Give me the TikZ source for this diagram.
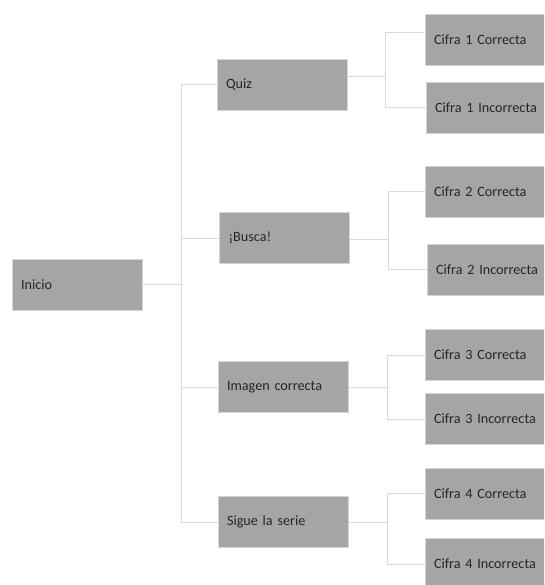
\documentclass[tikz,border=0pt]{standalone}
\usepackage{fontspec}
\setmainfont{Carlito}
\definecolor{boxfill}{HTML}{A5A5A5}
\definecolor{boxline}{HTML}{D4D4D4}
\definecolor{connline}{HTML}{D9D9D9}
\definecolor{txt}{HTML}{262626}
\tikzset{
  box/.style={rectangle, fill=boxfill, draw=boxline, line width=0.8pt,
    minimum height=51pt, text width=112pt, inner xsep=9pt, inner ysep=0pt,
    align=left, text=txt, font=\fontsize{14.2pt}{16pt}\selectfont},
  conn/.style={draw=connline, line width=1pt}
}
\begin{document}
\begin{tikzpicture}[x=1pt,y=-1pt]
\clip (0,0) rectangle (544,585);
\fill[white] (0,0) rectangle (544,585);
% level 1
\node[box] (inicio) at (77,284.5) {Inicio};
% level 2
\node[box] (quiz) at (282,84.5) {Quiz};
\node[box] (busca) at (284.5,238) {¡Busca!};
\node[box] (imagen) at (283,387) {Imagen correcta};
\node[box] (sigue) at (283,522) {Sigue la serie};
% level 3
\node[box] (c1c) at (490,39.5) {Cifra 1 Correcta};
\node[box] (c1i) at (491,107.5) {Cifra 1 Incorrecta};
\node[box] (c2c) at (490,192) {Cifra 2 Correcta};
\node[box] (c2i) at (492,269.5) {Cifra 2 Incorrecta};
\node[box] (c3c) at (490,355) {Cifra 3 Correcta};
\node[box] (c3i) at (490,419) {Cifra 3 Incorrecta};
\node[box] (c4c) at (490,493.5) {Cifra 4 Correcta};
\node[box] (c4i) at (490,564) {Cifra 4 Incorrecta};
% trunk
\coordinate (t) at (181,284.5);
\draw[conn] (inicio.east) -- (t);
\draw[conn] (t) |- (quiz.west);
\draw[conn] (t) |- (busca.west);
\draw[conn] (t) |- (imagen.west);
\draw[conn] (t) |- (sigue.west);
% quiz branches
\coordinate (b1) at (385,77);
\coordinate (c1cin) at (424,33);
\draw[conn] (quiz.east |- b1) -- (b1);
\draw[conn] (b1) |- (c1cin);
\draw[conn] (b1) |- (c1i.west);
% busca branches
\coordinate (b2) at (388,239);
\draw[conn] (busca.east |- b2) -- (b2);
\draw[conn] (b2) |- (c2c.west);
\draw[conn] (b2) |- (c2i.west);
% imagen branches
\coordinate (b3) at (387,387);
\draw[conn] (imagen.east) -- (b3);
\draw[conn] (b3) |- (c3c.west);
\draw[conn] (b3) |- (c3i.west);
% sigue branches
\coordinate (b4) at (387,522);
\draw[conn] (sigue.east) -- (b4);
\draw[conn] (b4) |- (c4c.west);
\draw[conn] (b4) |- (c4i.west);
\end{tikzpicture}
\end{document}
